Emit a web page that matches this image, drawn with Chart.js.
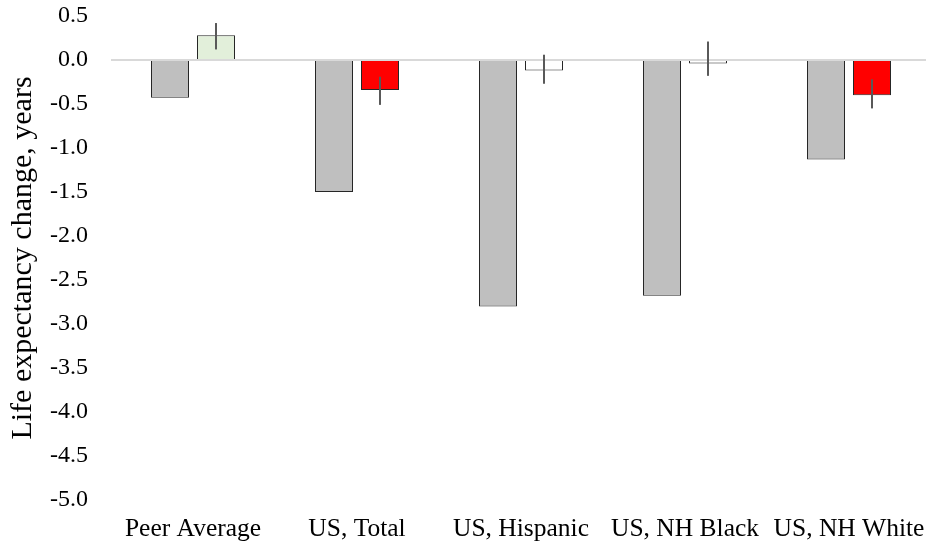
<!DOCTYPE html>
<html>
<head>
<meta charset="utf-8">
<title>Life expectancy change</title>
<script src="https://cdn.jsdelivr.net/npm/chart.js@4.4.1/dist/chart.umd.min.js"></script>
<style>
    html, body { margin: 0; padding: 0; background: #fff; overflow: hidden; }
    #wrap { width: 926px; height: 548px; overflow: hidden; }
</style>
</head>
<body>
<div id="wrap"><canvas id="leChart" width="932" height="548"></canvas></div>
<script>
// Data
const categories = ['Peer Average', 'US, Total', 'US, Hispanic', 'US, NH Black', 'US, NH White'];
const firstPeriod = [-0.43, -1.50, -2.80, -2.68, -1.13];
const secondPeriod = [0.28, -0.34, -0.12, -0.04, -0.40];
const secondLow = [0.12, -0.51, -0.27, -0.18, -0.55];
const secondHigh = [0.42, -0.19, 0.06, 0.21, -0.22];
const secondColors = ['#E2EFDA', '#FF0000', '#FFFFFF', '#FFFFFF', '#FF0000'];
const yTicks = { min: -5.0, max: 0.5, step: 0.5 };

const serif = "'Liberation Serif', 'Times New Roman', serif";

document.addEventListener('DOMContentLoaded', () => {
    const canvas = document.getElementById('leChart');
    const ctx = canvas.getContext('2d');

    // Vertical error lines (no caps) on the second series
    const errorBars = {
        id: 'errorBars',
        afterDatasetsDraw(chart) {
            const meta = chart.getDatasetMeta(1);
            const y = chart.scales.y;
            const c = chart.ctx;
            c.save();
            c.strokeStyle = '#595959';
            c.lineWidth = 2;
            meta.data.forEach((bar, i) => {
                c.beginPath();
                c.moveTo(bar.x, y.getPixelForValue(secondLow[i]));
                c.lineTo(bar.x, y.getPixelForValue(secondHigh[i]));
                c.stroke();
            });
            c.restore();
        }
    };

    new Chart(ctx, {
        type: 'bar',
        data: {
            labels: categories,
            datasets: [
                {
                    data: firstPeriod,
                    backgroundColor: '#BFBFBF',
                    borderColor: '#262626',
                    borderWidth: 1
                },
                {
                    data: secondPeriod,
                    backgroundColor: secondColors,
                    borderColor: '#262626',
                    borderWidth: 1
                }
            ]
        },
        options: {
            responsive: false,
            animation: false,
            devicePixelRatio: 1,
            categoryPercentage: 0.561,
            barPercentage: 0.826,
            layout: { padding: { left: 2, right: 1, top: 0, bottom: 0 } },
            plugins: {
                legend: { display: false },
                tooltip: { enabled: false }
            },
            scales: {
                x: {
                    grid: { display: false, drawTicks: false },
                    border: { display: false },
                    ticks: {
                        color: '#000',
                        padding: 14,
                        maxRotation: 0,
                        autoSkip: false,
                        font: { family: serif, size: 25.5 }
                    },
                    // fixed height, and no extra side padding for the edge labels
                    afterFit(scale) {
                        scale.height = 48;
                        scale.paddingLeft = 0;
                        scale.paddingRight = 0;
                    }
                },
                y: {
                    min: yTicks.min,
                    max: yTicks.max,
                    border: { display: false },
                    grid: {
                        drawTicks: false,
                        lineWidth: 2,
                        color: (c) => (c.tick && c.tick.value === 0 ? '#D9D9D9' : 'rgba(0,0,0,0)')
                    },
                    ticks: {
                        stepSize: yTicks.step,
                        color: '#000',
                        padding: 23,
                        font: { family: serif, size: 24 },
                        callback: (v) => Number(v).toFixed(1)
                    },
                    title: {
                        display: true,
                        text: 'Life expectancy change, years',
                        color: '#000',
                        padding: { top: 3, bottom: 0 },
                        font: { family: serif, size: 30 }
                    },
                    afterFit(scale) {
                        scale.width = 109;
                        scale.paddingTop = 16;
                        scale.paddingBottom = 0;
                    }
                }
            }
        },
        plugins: [errorBars]
    });
});
</script>
</body>
</html>
